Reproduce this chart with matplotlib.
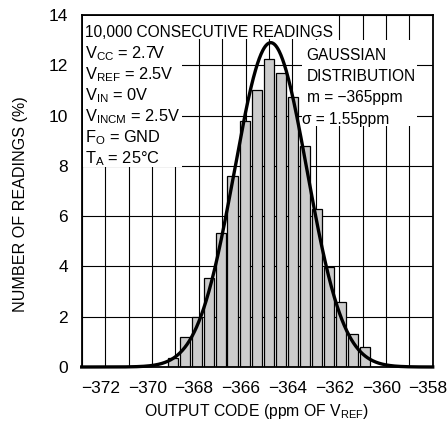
import numpy as np
import matplotlib
matplotlib.use("Agg")
import matplotlib.pyplot as plt
from matplotlib.patches import Rectangle
from matplotlib.ticker import FixedLocator

FONT = ["Liberation Sans", "DejaVu Sans"]
plt.rcParams["font.family"] = FONT
plt.rcParams["mathtext.fontset"] = "custom"
plt.rcParams["mathtext.rm"] = FONT[0]
plt.rcParams["mathtext.it"] = FONT[0]

# histogram (ppm of VREF, % of readings)
bin_centers = [-368.90, -368.39, -367.87, -367.36, -366.85, -366.34, -365.82,
               -365.31, -364.80, -364.28, -363.77, -363.26, -362.74, -362.23,
               -361.72, -361.21, -360.69]
bin_percent = [0.35, 1.2, 2.0, 3.53, 5.32, 7.6, 9.8, 11.03, 12.25, 11.68,
               10.72, 8.8, 6.3, 3.97, 2.57, 1.3, 0.81]

# gaussian fit shown on the chart
fit_mean = -364.72
fit_sigma = 1.55
fit_peak = 12.9

x_ticks = [-372, -370, -368, -366, -364, -362, -360, -358]
y_ticks = [0, 2, 4, 6, 8, 10, 12, 14]
x_lim = (-372.8, -357.8)

left_notes = [
    "10,000 CONSECUTIVE READINGS",
    r"V$_{\mathrm{CC}}$ = 2.7V",
    r"V$_{\mathrm{REF}}$ = 2.5V",
    r"V$_{\mathrm{IN}}$ = 0V",
    r"V$_{\mathrm{INCM}}$ = 2.5V",
    r"F$_{\mathrm{O}}$ = GND",
    r"T$_{\mathrm{A}}$ = 25°C",
]
right_notes = ["GAUSSIAN", "DISTRIBUTION", "m = \u2212365ppm", "\u03c3 = 1.55ppm"]

W, H = 448, 423
fig = plt.figure(figsize=(W / 100, H / 100), dpi=100)
ax = fig.add_axes([81.7 / W, 1 - 367 / H, 351 / W, 352 / H])

ax.set_xlim(*x_lim)
ax.set_ylim(0, 14)

grid_x = [x_lim[0] + k for k in range(16)]
ax.xaxis.set_minor_locator(FixedLocator(grid_x))
ax.xaxis.set_major_locator(FixedLocator(x_ticks))
ax.yaxis.set_major_locator(FixedLocator(y_ticks))
ax.grid(which="minor", axis="x", color="black", linewidth=0.8)
ax.grid(which="major", axis="y", color="black", linewidth=0.8)
ax.set_axisbelow(True)
ax.tick_params(which="both", length=0, labelsize=12.5, pad=10)

for s in ax.spines.values():
    s.set_linewidth(1.3)
    s.set_zorder(5)

ax.bar(bin_centers, bin_percent, width=0.46, color="#cccccc",
       edgecolor="black", linewidth=0.9, zorder=2)

xs = np.linspace(x_lim[0], x_lim[1], 600)
ys = fit_peak * np.exp(-0.5 * ((xs - fit_mean) / fit_sigma) ** 2)
ax.plot(xs, ys, color="black", linewidth=2.4, zorder=3, clip_on=False)

# white panels behind the notes hide the grid, as in the original
def px_rect(x0, y0, x1, y1):
    return Rectangle((x0 / W, 1 - y1 / H), (x1 - x0) / W, (y1 - y0) / H,
                     transform=fig.transFigure, facecolor="white",
                     edgecolor="none", zorder=1.5)

ax.add_patch(px_rect(82.5, 15.7, 336, 39))
ax.add_patch(px_rect(82.5, 39, 182, 167))
ax.add_patch(px_rect(302, 40, 417, 126))

for i, line in enumerate(left_notes):
    size = 11.2 if i == 0 else 11.8
    ax.text(85 / W, 1 - (37 + 21.05 * i) / H, line, transform=fig.transFigure,
            fontsize=size, va="baseline", ha="left", zorder=4)
for i, line in enumerate(right_notes):
    xpos = 301.7 if line.startswith("\u03c3") else 306.7
    ax.text(xpos / W, 1 - (60 + 21.2 * i) / H, line, transform=fig.transFigure,
            fontsize=11.2, va="baseline", ha="left", zorder=4)

fig.text(20.5 / W, 1 - 204 / H, "NUMBER OF READINGS (%)", rotation=90,
         ha="center", va="center", fontsize=11.6)
fig.text(256 / W, 1 - 411 / H, r"OUTPUT CODE (ppm OF V$_{\mathrm{REF}}$)",
         ha="center", va="center", fontsize=11.3)

fig.savefig("out.png", dpi=100, facecolor="white")
